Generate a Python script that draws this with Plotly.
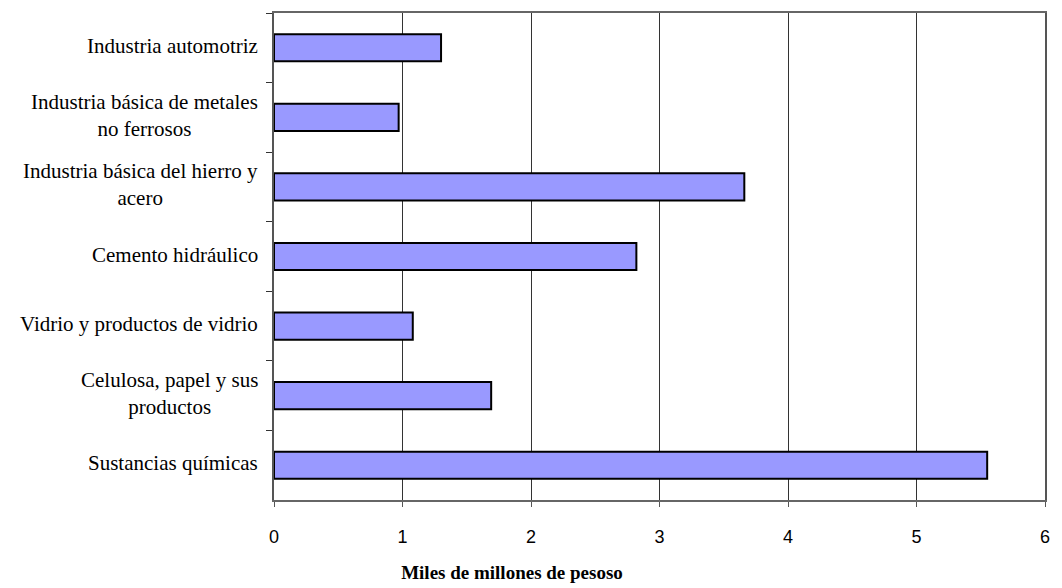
import plotly.graph_objects as go

categories = [
    "Industria automotriz",
    "Industria básica de metales<br>no ferrosos",
    "Industria básica del hierro y<br>acero",
    "Cemento hidráulico",
    "Vidrio y productos de vidrio",
    "Celulosa, papel y sus<br>productos",
    "Sustancias químicas",
]
values = [1.30, 0.97, 3.66, 2.82, 1.08, 1.69, 5.55]
x_ticks = [0, 1, 2, 3, 4, 5, 6]
x_title = "Miles de millones de pesoso"

fig = go.Figure(
    go.Bar(
        x=values,
        y=categories,
        orientation="h",
        marker=dict(color="#9999FF", line=dict(color="#000000", width=2)),
        hoverinfo="skip",
    )
)

for cat in categories:
    fig.add_annotation(
        x=0, xref="paper", y=cat, yref="y",
        text=cat, showarrow=False, xanchor="right", xshift=-14, yshift=2,
        align="center",
        font=dict(family="Liberation Serif, Times New Roman, serif", size=21, color="#000"),
    )

fig.update_layout(
    width=1062, height=588,
    margin=dict(l=274, r=17, t=11, b=88),
    paper_bgcolor="white", plot_bgcolor="white",
    bargap=0.61,
    showlegend=False,
    title=dict(
        text="<b>" + x_title + "</b>",
        x=512 / 1062, xref="container", xanchor="center",
        y=16 / 588, yref="container", yanchor="middle",
        font=dict(family="Liberation Serif, Times New Roman, serif", size=19, color="#000"),
    ),
    xaxis=dict(
        range=[0, 6],
        tickvals=x_ticks,
        ticktext=[str(v) for v in x_ticks],
        showgrid=True, gridcolor="#333333", gridwidth=1,
        showline=True, linecolor="#666666", linewidth=2, mirror=True,
        ticks="outside", ticklen=5, tickcolor="#555555",
        ticklabelstandoff=14,
        tickfont=dict(family="Liberation Sans Narrow, Liberation Sans, Arial, sans-serif", size=18, color="#000"),
        zeroline=False,
    ),
    yaxis=dict(
        autorange="reversed",
        showticklabels=False,
        tickson="boundaries",
        ticks="outside", ticklen=6, tickcolor="#333333",
        showgrid=False,
        showline=True, linecolor="#555555", linewidth=2, mirror=True,
    ),
)

fig.write_html("out.html")
